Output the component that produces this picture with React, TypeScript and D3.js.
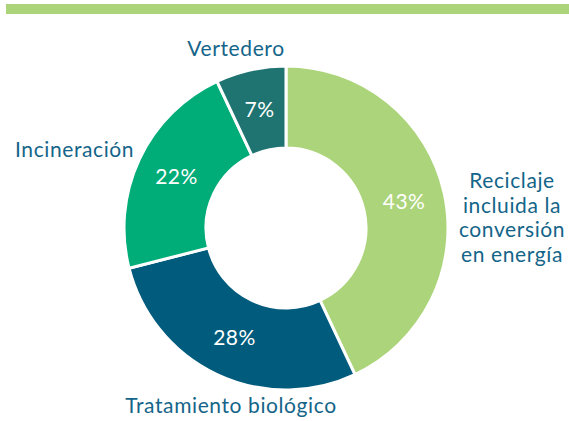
import { useEffect, useRef } from "react";
import * as d3 from "d3";

const categories = ["Reciclaje incluida la conversión en energía", "Tratamiento biológico", "Incineración", "Vertedero"];
const values = [43, 28, 22, 7];
const colors = ["#acd47a", "#005b7c", "#00ac78", "#1f7472"];
// outer label lines + position for each slice
const labelLines = [
  ["Reciclaje", "incluida la", "conversión", "en energía"],
  ["Tratamiento biológico"],
  ["Incineración"],
  ["Vertedero"],
];
const labelPos: [number, number, string][] = [
  [512, 188, "middle"],
  [231, 413, "middle"],
  [15, 157, "start"],
  [236, 56, "middle"],
];

export default function App() {
  const svgRef = useRef<SVGSVGElement>(null);
  const width = 569;
  const height = 421;

  useEffect(() => {
    const svg = d3.select(svgRef.current);
    svg.selectAll("*").remove();

    // top band
    svg.append("rect")
      .attr("x", 6).attr("y", 4)
      .attr("width", width - 6).attr("height", 10)
      .attr("fill", "#acd47a");

    const cx = 286, cy = 228;
    const outer = 162, inner = 80;

    const pie = d3.pie<number>().sort(null).value(d => d);
    const arcs = pie(values);
    const arc = d3.arc<d3.PieArcDatum<number>>().innerRadius(inner).outerRadius(outer);
    const labelArc = d3.arc<d3.PieArcDatum<number>>().innerRadius(121).outerRadius(121);

    const g = svg.append("g").attr("transform", `translate(${cx},${cy})`);

    g.selectAll("path")
      .data(arcs)
      .join("path")
      .attr("d", arc)
      .attr("fill", (d, i) => colors[i])
      .attr("stroke", "#fff")
      .attr("stroke-width", 3);

    g.selectAll("text.pct")
      .data(arcs)
      .join("text")
      .attr("class", "pct")
      .attr("transform", d => `translate(${labelArc.centroid(d)})`)
      .attr("text-anchor", "middle")
      .attr("dy", "0.36em")
      .attr("fill", "#fff")
      .style("font", "21px Lato, sans-serif")
      .style("letter-spacing", "0.5px")
      .text(d => `${d.data}%`);

    const lab = svg.append("g")
      .attr("fill", "#146589")
      .style("font", "21px Lato, sans-serif")
      .style("letter-spacing", "0.6px");

    labelLines.forEach((lines, i) => {
      const [x, y, anchor] = labelPos[i];
      const t = lab.append("text")
        .attr("x", x).attr("y", y)
        .attr("text-anchor", anchor)
        .attr("aria-label", categories[i]);
      lines.forEach((line, j) => {
        t.append("tspan").attr("x", x).attr("dy", j === 0 ? 0 : 24.7).text(line);
      });
    });
  }, []);

  return (
    <div style={{ position: "absolute", left: 0, top: 0 }}>
      <svg ref={svgRef} width={width} height={height} style={{ display: "block" }} />
    </div>
  );
}
